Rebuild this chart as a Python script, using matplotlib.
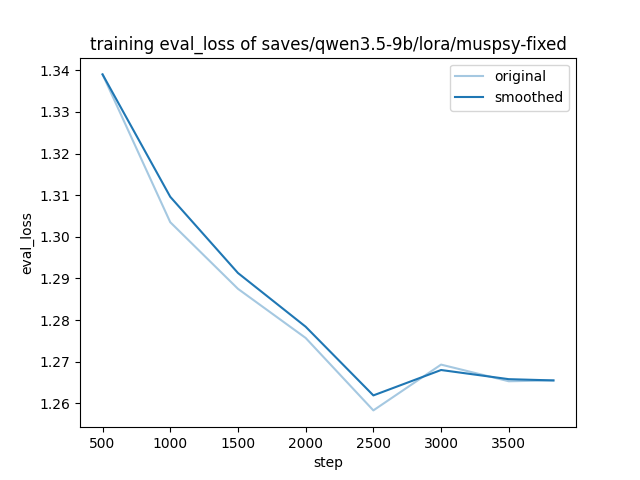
import matplotlib
matplotlib.use("Agg")
import matplotlib.pyplot as plt

steps = [500, 1000, 1500, 2000, 2500, 3000, 3500, 3830]
original = [1.3390, 1.3035, 1.2875, 1.2757, 1.2583, 1.2693, 1.2653, 1.2655]
smoothed = [1.3390, 1.3096, 1.2913, 1.2784, 1.2619, 1.2680, 1.2658, 1.2655]

plt.figure(figsize=(6.4, 4.8), dpi=100)
plt.plot(steps, original, color="#1f77b4", alpha=0.4, label="original")
plt.plot(steps, smoothed, color="#1f77b4", label="smoothed")
plt.title("training eval_loss of saves/qwen3.5-9b/lora/muspsy-fixed")
plt.xlabel("step")
plt.ylabel("eval_loss")
plt.legend()
plt.savefig("out.png", dpi=100)
